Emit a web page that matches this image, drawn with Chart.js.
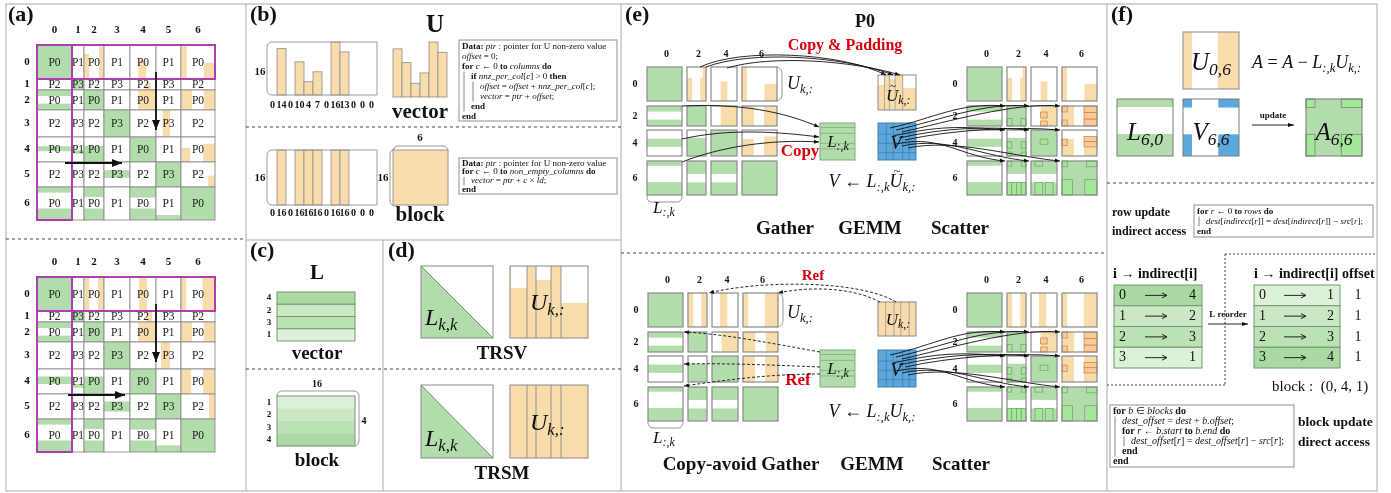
<!DOCTYPE html>
<html>
<head>
<meta charset="utf-8">
<script src="https://cdn.jsdelivr.net/npm/chart.js@4.4.1/dist/chart.umd.min.js"></script>
<style>html,body{margin:0;padding:0;background:#fff}canvas{display:block}</style>
</head>
<body>
<canvas id="fig" width="1391" height="493"></canvas>
<script>
// ---------------- data ----------------
// supernode block ids and the owning process of each block (2x2 process grid)
const blockIds = ['0','1','2','3','4','5','6'];
const owner = [
  ['P0','P1','P0','P1','P0','P1','P0'],
  ['P2','P3','P2','P3','P2','P3','P2'],
  ['P0','P1','P0','P1','P0','P1','P0'],
  ['P2','P3','P2','P3','P2','P3','P2'],
  ['P0','P1','P0','P1','P0','P1','P0'],
  ['P2','P3','P2','P3','P2','P3','P2'],
  ['P0','P1','P0','P1','P0','P1','P0']
];
// non-zeros per column of one U block: compressed (vector) and padded (block)
const nnzPerCol    = [0,14,0,10,4,7,0,16,13,0,0,0];
const paddedPerCol = [0,16,0,16,16,16,0,16,16,0,0,0];
const rowsPerBlock = 16;
const nonEmptyCols = 6;
// row order of an L block before / after reordering
const lRowsVector = [4,2,3,1];
const lRowsBlock  = [1,2,3,4];
// indirect row map and its reordered form
const rowIndex          = [0,1,2,3];
const indirect          = [4,2,3,1];
const indirectReordered = [1,2,3,4];
const rowOffset         = [1,1,1,1];
const blockTuple        = [0,4,1];
// block ids owned by P0 in the GEMM step
const gemmIds = ['0','2','4','6'];

// fill patterns of the blocks: [x0,y0,x1,y1,kind] in block fractions
const G = [[0,0,1,1,'g']];
const aVector = {
  '0,0':G,'0,2':[[0,.26,.25,1,'u'],[.75,0,.95,1,'u']],'0,4':[[.32,.46,.62,1,'u']],'0,6':[[.02,0,.17,1,'u'],[.67,.52,1,1,'u']],
  '1,1':G,'1,4':[[.58,.33,.8,1,'u']],
  '2,0':[[0,0,1,.3,'g'],[0,.68,1,1,'g']],'2,2':G,'2,4':[[.32,0,1,1,'u']],'2,6':[[0,0,.32,1,'u'],[.67,0,1,1,'u']],
  '3,3':G,'3,5':[[.27,0,.56,1,'u']],
  '4,0':[[0,.37,1,.57,'g']],'4,1':[[0,.53,1,.67,'g']],'4,2':[[0,.35,1,1,'g']],'4,4':G,'4,6':[[.02,.43,.27,1,'u'],[.65,.27,1,1,'u']],
  '5,3':[[0,.33,1,.63,'g']],'5,5':G,'5,6':[[.8,.55,1,1,'u']],
  '6,0':[[0,0,1,.17,'g'],[0,.65,1,1,'g']],'6,2':[[0,0,1,.3,'g'],[0,.65,1,1,'g']],'6,4':[[0,0,1,.32,'g'],[0,.65,1,1,'g']],'6,5':[[0,.85,1,1,'g']],'6,6':G
};
const aBlock = Object.assign({}, aVector, {
  '0,2':[[.05,0,.26,1,'u'],[.7,0,1,1,'u']],'0,4':[[.35,0,.65,1,'u']],'0,6':[[0,0,.15,1,'u'],[.63,0,1,1,'u']],
  '1,4':[[.62,0,.85,1,'u']],'3,5':[[.2,0,.55,1,'u']],'4,6':[[0,0,.3,1,'u'],[.65,0,1,1,'u']],'5,6':[[.82,0,1,1,'u']],
  '4,0':[[0,.3,1,.6,'g']],'4,1':[[0,.6,1,.75,'g']],'4,2':[[0,.3,1,1,'g']],'5,3':[[0,.3,1,.7,'g']],'6,5':[[0,.8,1,1,'g']]
});
const eVector = {
  '0,0':G,'0,2':[[0,.32,.27,1,'u'],[.7,.32,.83,1,'u'],[.83,0,1,1,'u']],'0,4':[[.37,.42,.63,1,'u']],'0,6':[[0,0,.14,1,'u'],[.64,.5,1,1,'u']],
  '2,0':[[0,0,1,.28,'g'],[0,.68,1,1,'g']],'2,2':G,'2,4':[[.37,0,1,1,'u']],'2,6':[[0,0,.34,1,'u'],[.63,0,1,1,'u']],
  '4,0':[[0,.33,1,.65,'g']],'4,2':[[0,.3,1,1,'g']],'4,4':G,'4,6':[[0,.35,.34,1,'u'],[.63,.25,1,1,'u']],
  '6,0':[[0,0,1,.14,'g'],[0,.62,1,1,'g']],'6,2':[[0,0,1,.38,'g'],[0,.63,1,1,'g']],'6,4':[[0,0,1,.38,'g'],[0,.63,1,1,'g']],'6,6':G
};
const eBlock = Object.assign({}, eVector, {
  '0,2':[[0,0,.28,1,'u'],[.7,0,1,1,'u']],'0,4':[[.31,0,.59,1,'u']],'0,6':[[0,0,.15,1,'u'],[.62,0,1,1,'u']],
  '2,6':[[0,0,.35,1,'u'],[.65,0,1,1,'u']],'4,6':[[0,0,.34,1,'u'],[.63,0,1,1,'u']]
});
const eUpdate = {
  '2,2':[[0,.62,.27,1,'b'],[.73,.62,1,1,'b']],
  '2,4':[[.37,.3,.62,.6,'o'],[.37,.75,.62,1,'o']],
  '2,6':[[0,0,.15,.3,'o'],[0,.7,.15,1,'o'],[.63,0,1,.33,'o'],[.63,.33,1,.66,'o'],[.63,.66,1,1,'o']],
  '4,2':[[0,.45,.25,.7,'b'],[.75,.45,1,.7,'b'],[0,.85,.25,1,'b'],[.75,.85,1,1,'b']],
  '4,4':[[.35,.35,.65,.55,'b']],
  '4,6':[[0,.35,.15,.6,'o'],[.63,.25,1,.45,'o'],[.63,.45,1,.65,'o']],
  '6,2':[[0,.63,.25,1,'b'],[.25,.63,.5,1,'b'],[.5,.63,.75,1,'b'],[.75,.63,1,1,'b'],[0,0,.25,.15,'b'],[.75,0,1,.15,'b']],
  '6,4':[[.15,.63,.45,1,'b'],[.55,.63,.85,1,'b'],[.15,0,.45,.15,'b']],
  '6,6':[[0,0,.15,.17,'b'],[.7,0,1,.17,'b'],[0,.55,.3,1,'b'],[.65,.55,1,1,'b']]
};

// ---------------- styles ----------------
const SERIF = '"Liberation Serif","Times New Roman",serif';
const COL = {
  green:'#b2dcab', bright:'#a6e69b', tan:'#f8dcab', orange:'#fcca98', blue:'#5da7dc',
  blueLine:'#3f80b4', frame:'#a9a9a9', magenta:'#b13db3', red:'#d7000f', ink:'#111111',
  greenLine:'#78a872', orangeLine:'#c88c50', cell:'#8e8e8e'
};
const KIND = {g:COL.green, u:COL.tan, b:COL.bright, o:COL.orange, v:COL.blue};
const SHADE = ['#ddf0d9','#cbe8c5','#bbe1b4','#abd9a3'];

// ---------------- drawing helpers (all coordinates go through the chart scales) ----------------
let X, Y, ctx;
function fillR(x0,y0,x1,y1,c){ctx.fillStyle=c;ctx.fillRect(X(x0),Y(y0),X(x1)-X(x0),Y(y1)-Y(y0));}
function strokeR(x0,y0,x1,y1,c,lw){ctx.setLineDash([]);ctx.strokeStyle=c;ctx.lineWidth=lw||1;ctx.strokeRect(X(x0),Y(y0),X(x1)-X(x0),Y(y1)-Y(y0));}
function seg(pts,c,lw,dash){ctx.beginPath();pts.forEach((p,i)=>i?ctx.lineTo(X(p[0]),Y(p[1])):ctx.moveTo(X(p[0]),Y(p[1])));ctx.strokeStyle=c||COL.ink;ctx.lineWidth=lw||1;ctx.setLineDash(dash||[]);ctx.stroke();ctx.setLineDash([]);}
function poly(pts,fill,stroke,lw){ctx.beginPath();pts.forEach((p,i)=>i?ctx.lineTo(X(p[0]),Y(p[1])):ctx.moveTo(X(p[0]),Y(p[1])));ctx.closePath();if(fill){ctx.fillStyle=fill;ctx.fill();}if(stroke){ctx.strokeStyle=stroke;ctx.lineWidth=lw||1;ctx.stroke();}}
function head(tx,ty,fx,fy,len,wid,c){
  const a=Math.atan2(Y(ty)-Y(fy),X(tx)-X(fx)), px=X(tx), py=Y(ty);
  ctx.beginPath();ctx.moveTo(px,py);
  ctx.lineTo(px-len*Math.cos(a)+wid/2*Math.sin(a),py-len*Math.sin(a)-wid/2*Math.cos(a));
  ctx.lineTo(px-len*Math.cos(a)-wid/2*Math.sin(a),py-len*Math.sin(a)+wid/2*Math.cos(a));
  ctx.closePath();ctx.fillStyle=c||COL.ink;ctx.fill();
}
function arrow(x0,y0,x1,y1,lw,len,wid){seg([[x0,y0],[x1,y1]],COL.ink,lw);head(x1,y1,x0,y0,len,wid);}
function curve(p0,c1,c2,p1,opt){
  opt=opt||{};
  ctx.beginPath();ctx.moveTo(X(p0[0]),Y(p0[1]));
  ctx.bezierCurveTo(X(c1[0]),Y(c1[1]),X(c2[0]),Y(c2[1]),X(p1[0]),Y(p1[1]));
  ctx.strokeStyle=COL.ink;ctx.lineWidth=opt.lw||0.9;ctx.setLineDash(opt.dash||[]);ctx.stroke();ctx.setLineDash([]);
  head(p1[0],p1[1],c2[0],c2[1],opt.len||6,opt.wid||4);
}
function rounded(pts,r,c,lw){
  ctx.beginPath();ctx.moveTo(X(pts[0][0]),Y(pts[0][1]));
  for(let i=1;i<pts.length-1;i++)ctx.arcTo(X(pts[i][0]),Y(pts[i][1]),X(pts[i+1][0]),Y(pts[i+1][1]),r);
  const l=pts[pts.length-1];ctx.lineTo(X(l[0]),Y(l[1]));
  ctx.strokeStyle=c||'#999';ctx.lineWidth=lw||1;ctx.setLineDash([]);ctx.stroke();
}
function txt(t,x,y,font,color,align,base){ctx.font=font;ctx.fillStyle=color||COL.ink;ctx.textAlign=align||'center';ctx.textBaseline=base||'middle';ctx.fillText(t,X(x),Y(y));}
function fnt(style,size){return (style.indexOf('i')>=0?'italic ':'')+(style.indexOf('b')>=0?'bold ':'')+size+'px '+SERIF;}
// mixed-style text: segments [text, style, kind] where kind may be 'sub' or 'tilde'
function rich(segs,x,y,size,align,color){
  const items=segs.map(s=>{const sub=s[2]==='sub';const sz=sub?size*0.7:size;const f=fnt(s[1]||'',sz);ctx.font=f;
    return {t:s[0],f:f,w:ctx.measureText(s[0]).width,sub:sub,tilde:s[2]==='tilde'};});
  const tot=items.reduce((a,b)=>a+b.w,0);
  let cx=X(x)-(align==='center'?tot/2:align==='right'?tot:0);const cy=Y(y);
  ctx.textAlign='left';ctx.textBaseline='alphabetic';ctx.fillStyle=color||COL.ink;
  items.forEach(it=>{ctx.font=it.f;ctx.fillText(it.t,cx,cy+(it.sub?size*0.2:0));
    if(it.tilde){ctx.font=fnt('',size*0.7);ctx.fillText('~',cx+it.w*0.3,cy-size*0.66);}
    cx+=it.w;});
  return tot;
}
const M=(b,s,t)=>[[b,'i',t?'tilde':''],[s,'i','sub']];
function patt(x0,y0,x1,y1,pats,outline){
  if(!pats)return;
  pats.forEach(p=>{
    const a=x0+(x1-x0)*p[0],b=y0+(y1-y0)*p[1],c=x0+(x1-x0)*p[2],d=y0+(y1-y0)*p[3];
    fillR(a,b,c,d,KIND[p[4]]);
    if(outline)strokeR(a,b,c,d,p[4]==='b'?COL.greenLine:COL.orangeLine,0.8);
  });
}
function codeBox(x0,y0,x1,y1,lines,size,lh){
  fillR(x0,y0,x1,y1,'#fff');strokeR(x0,y0,x1,y1,'#8f8f8f',1);
  const ind=9;
  lines.forEach((ln,i)=>{
    const d=ln[0], base=y0+lh*(i+1)-1;
    for(let k=1;k<=d;k++){const vx=x0+5+(k-1)*ind;seg([[vx,base-lh+2.5],[vx,base+2.5]],'#333',0.6);}
    rich(ln[1],x0+3+d*ind,base,size,'left');
  });
}

// ---------------- panels ----------------
function frames(){
  strokeR(6,4,1377,491,COL.frame,1);
  [[246,4,246,491],[621,4,621,491],[1107,4,1107,491],[383,240,383,491]].forEach(l=>seg([[l[0],l[1]],[l[2],l[3]]],COL.frame,1));
  seg([[246,240],[621,240]],COL.frame,1);
  const dash=[3,3];
  seg([[6,239],[246,239]],'#444',1,dash);
  seg([[246,127],[621,127]],'#444',1,dash);
  seg([[246,369],[621,369]],'#444',1,dash);
  seg([[621,253],[1107,253]],'#444',1,dash);
  seg([[1107,183],[1377,183]],'#444',1,dash);
  const dot=[2,2];
  seg([[1225,254],[1377,254]],'#444',1,dot);
  seg([[1225,254],[1225,385]],'#444',1,dot);
  seg([[1107,385],[1225,385]],'#444',1,dot);
  const pf='bold 22px '+SERIF;
  txt('(a)',8,21,pf,COL.ink,'left','alphabetic');
  txt('(b)',250,21,pf,COL.ink,'left','alphabetic');
  txt('(c)',250,257,pf,COL.ink,'left','alphabetic');
  txt('(d)',388,257,pf,COL.ink,'left','alphabetic');
  txt('(e)',625,21,pf,COL.ink,'left','alphabetic');
  txt('(f)',1111,21,pf,COL.ink,'left','alphabetic');
}

const aX=[37,72,84,104,130,156,181,215];
const aY=[0,34,45,65,92,117,142,175];
function grid(top,pats,arrows){
  const ye=aY.map(v=>v+top);
  blockIds.forEach((id,c)=>txt(id,(aX[c]+aX[c+1])/2,top-15,'bold 11px '+SERIF));
  blockIds.forEach((id,r)=>txt(id,27,(ye[r]+ye[r+1])/2,'bold 11px '+SERIF));
  owner.forEach((row,r)=>row.forEach((p,c)=>{
    const x0=aX[c],x1=aX[c+1],y0=ye[r],y1=ye[r+1];
    fillR(x0,y0,x1,y1,'#fff');patt(x0,y0,x1,y1,pats[r+','+c]);
    strokeR(x0,y0,x1,y1,COL.cell,0.9);
    txt(p,(x0+x1)/2,(y0+y1)/2+0.5,'11.5px '+SERIF,'#222');
  }));
  strokeR(aX[0],ye[0],aX[7],ye[1],COL.magenta,2);
  strokeR(aX[0],ye[0],aX[1],ye[7],COL.magenta,2);
  arrow(156,top+27,156,top+85,1.8,10,8);
  arrow(arrows,top+118,arrows+57,top+118,1.8,10,8);
}
function panelA(){grid(45,aVector,65);grid(277,aBlock,68);}

function colBars(x0,x1,y0,y1,vals,ly){
  const w=9,start=x0+1;
  vals.forEach((v,i)=>{const a=start+i*w;
    if(v>0){const t=y1-(y1-y0)*v/rowsPerBlock;fillR(a,t,a+w,y1,COL.tan);strokeR(a,t,a+w,y1,'#8c8c8c',0.8);}
    txt(String(v),a+w/2,ly,'bold 10px '+SERIF);});
  rounded([[x0+6,y0],[x0,y0],[x0,y1],[x0+6,y1]],5,'#9a9a9a',1);
  seg([[x0+6,y0],[x1,y0],[x1,y1],[x0+6,y1]],'#9a9a9a',1);
}
function panelB(){
  txt('U',435,32,'bold 25px '+SERIF,COL.ink,'center','alphabetic');
  txt('16',260,72,'bold 11px '+SERIF);
  colBars(267,377,42,95,nnzPerCol,105);
  const vals=nnzPerCol.filter(v=>v>0);
  vals.forEach((v,i)=>{const a=393+i*9,t=97-55*v/rowsPerBlock;fillR(a,t,a+9,97,COL.tan);strokeR(a,t,a+9,97,'#8c8c8c',0.8);});
  txt('vector',420,118,'bold 21px '+SERIF,COL.ink,'center','alphabetic');
  codeBox(459,40,617,121,[
    [0,[['Data:','b'],[' ',''],['ptr','i'],[' : pointer for U non-zero value','']]],
    [0,[['offset','i'],[' = 0;','']]],
    [0,[['for ','b'],['c','i'],[' \u2190 0 ',''],['to ','b'],['columns','i'],[' do','b']]],
    [1,[['if ','b'],['nnz_per_col','i'],['[',''],['c','i'],['] > 0 ',''],['then','b']]],
    [2,[['offset','i'],[' = ',''],['offset','i'],[' + ',''],['nnz_per_col','i'],['[',''],['c','i'],['];','']]],
    [2,[['vector','i'],[' = ',''],['ptr','i'],[' + ',''],['offset','i'],[';','']]],
    [1,[['end','b']]],
    [0,[['end','b']]]
  ],9,10);
  txt('16',260,178,'bold 11px '+SERIF);
  colBars(267,377,150,205,paddedPerCol,213);
  fillR(393,150,448,205,COL.tan);strokeR(393,150,448,205,'#999',1);
  rounded([[393,151],[393,146],[448,146],[448,151]],5,'#999',1);
  rounded([[395,149],[390,149],[390,206],[395,206]],5,'#999',1);
  txt(String(nonEmptyCols),420,138,'bold 11px '+SERIF);
  txt('16',383,178,'bold 11px '+SERIF);
  txt('block',420,221,'bold 21px '+SERIF,COL.ink,'center','alphabetic');
  codeBox(459,158,617,194,[
    [0,[['Data:','b'],[' ',''],['ptr','i'],[' : pointer for U non-zero value','']]],
    [0,[['for ','b'],['c','i'],[' \u2190 0 ',''],['to ','b'],['non_empty_columns','i'],[' do','b']]],
    [1,[['vector','i'],[' = ',''],['ptr','i'],[' + ',''],['c','i'],[' \u00d7 ',''],['ld','i'],[';','']]],
    [0,[['end','b']]]
  ],9,8.7);
}

function panelC(){
  txt('L',317,279,'bold 21px '+SERIF,COL.ink,'center','alphabetic');
  const h=(341-292)/lRowsVector.length;
  lRowsVector.forEach((v,i)=>{const y0=292+i*h;fillR(277,y0,355,y0+h,SHADE[v-1]);strokeR(277,y0,355,y0+h,'#6f9a6a',1);
    txt(String(v),269,y0+h/2,'bold 9px '+SERIF);});
  txt('vector',317,359,'bold 19px '+SERIF,COL.ink,'center','alphabetic');
  txt(String(rowsPerBlock),317,384,'bold 10px '+SERIF);
  rounded([[277,397],[277,391],[359,391],[359,446],[354,446]],5,'#999',1);
  txt(String(lRowsBlock.length),364,421,'bold 10px '+SERIF);
  const hb=(446-396)/lRowsBlock.length;
  lRowsBlock.forEach((v,i)=>{const y0=396+i*hb;fillR(277,y0,355,y0+hb+0.5,SHADE[v-1]);
    txt(String(v),269,y0+hb/2,'bold 9px '+SERIF);});
  strokeR(277,396,355,446,'#8a8a8a',1);
  txt('block',317,466,'bold 19px '+SERIF,COL.ink,'center','alphabetic');
}

function uPanel(y0,y1,blanks){
  fillR(510,y0,588,y1,COL.tan);
  blanks.forEach(b=>fillR(b[0],y0,b[1],y0+b[2],'#fff'));
  [527,536,551,561].forEach(x=>seg([[x,y0],[x,y1]],'#8a8a8a',0.9));
  strokeR(510,y0,588,y1,'#8a8a8a',1);
}
function panelD(){
  // TRSV
  fillR(421,266,493,338,'#fff');
  poly([[421,266],[421,338],[493,338]],COL.green,null);
  seg([[421,266],[493,338]],'#5f8f5a',0.9);
  strokeR(421,266,493,338,'#8a8a8a',1);
  rich(M('L','k,k'),425,325,24,'left');
  uPanel(266,338,[[511,527,22],[536,551,14],[561,588,37]]);
  rich(M('U','k,:'),530,310,24,'left');
  txt('TRSV',502,359,'bold 19px '+SERIF,COL.ink,'center','alphabetic');
  // TRSM
  fillR(421,385,493,458,'#fff');
  poly([[421,385],[421,458],[493,458]],COL.green,null);
  seg([[421,385],[493,458]],'#5f8f5a',0.9);
  strokeR(421,385,493,458,'#8a8a8a',1);
  rich(M('L','k,k'),425,446,24,'left');
  uPanel(385,458,[]);
  rich(M('U','k,:'),530,430,24,'left');
  txt('TRSM',502,479,'bold 19px '+SERIF,COL.ink,'center','alphabetic');
}

const eCols=[[0,35],[40,59],[64,90],[95,130]];
const eRows=[[0,34],[39,59],[63,89],[94,128]];
function blockMatrix(ox,oy,pats,upd){
  gemmIds.forEach((id,j)=>txt(id,ox+(eCols[j][0]+eCols[j][1])/2+2,oy-13,'bold 10px '+SERIF));
  gemmIds.forEach((id,i)=>txt(id,ox-12,oy+(eRows[i][0]+eRows[i][1])/2,'bold 10px '+SERIF));
  gemmIds.forEach((ri,i)=>gemmIds.forEach((ci,j)=>{
    const x0=ox+eCols[j][0],x1=ox+eCols[j][1],y0=oy+eRows[i][0],y1=oy+eRows[i][1];
    fillR(x0,y0,x1,y1,'#fff');patt(x0,y0,x1,y1,pats[ri+','+ci]);
    if(upd)patt(x0,y0,x1,y1,upd[ri+','+ci],true);
    strokeR(x0,y0,x1,y1,'#8a8a8a',1.2);
  }));
}
function lBox(y0){
  fillR(820,y0,855,y0+37,COL.green);
  [.12,.28,.55,.7].forEach(f=>seg([[820,y0+37*f],[855,y0+37*f]],'#7fae79',0.8));
  strokeR(820,y0,855,y0+37,'#7fae79',1);
  rich(M('L',':,k'),838,y0+24,17,'center');
}
function vBox(y0){
  fillR(878,y0,916,y0+37,COL.blue);
  [.22,.4,.65,.82].forEach(f=>seg([[878+38*f,y0],[878+38*f,y0+37]],COL.blueLine,0.8));
  [.3,.55,.8].forEach(f=>seg([[878,y0+37*f],[916,y0+37*f]],COL.blueLine,0.8));
  strokeR(878,y0,916,y0+37,COL.blueLine,1);
  rich([['V','i']],896,y0+26,19,'center');
}
function scatterArrows(vy,oy){
  for(let i=1;i<4;i++)for(let j=1;j<4;j++){
    const sx=884+6*j+3*(i-1), sy=vy-5+8*i+2*j;
    const tx=967+eCols[j][0]-2, ty=oy+eRows[i][0];
    curve([sx,sy],[sx+45,sy-10],[tx-45,ty-4],[tx,ty],{lw:0.9,len:5,wid:4});
  }
}
function panelE(){
  txt('P0',865,27,'bold 18px '+SERIF,COL.ink,'center','alphabetic');
  txt('Copy & Padding',845,50,'bold 16px '+SERIF,COL.red,'center','alphabetic');
  // top: gather with copy
  blockMatrix(647,67,eVector,null);
  rounded([[776,67],[782,67],[782,101],[776,101]],6,'#999',1);
  rich(M('U','k,:'),787,89,18,'left');
  rounded([[647,195],[647,202],[682,202],[682,195]],5,'#999',1);
  rich(M('L',':,k'),653,213,17,'left');
  fillR(878,75,916,110,COL.tan);
  [[878,884.5,10],[889.5,895,4],[903,916,13]].forEach(b=>fillR(b[0],75,b[1],75+b[2],'#fff'));
  [.17,.3,.45,.65].forEach(f=>seg([[878+38*f,75],[878+38*f,110]],'#9a9a9a',0.8));
  strokeR(878,75,916,110,'#8a8a8a',1);
  rich(M('U','k,:',true),886,101,17,'left');
  lBox(123);vBox(123);
  txt('Copy',800,156,'bold 17px '+SERIF,COL.red,'center','alphabetic');
  rich([['V','i'],[' \u2190 ',''],['L','i'],[':,k','i','sub'],['U','i','tilde'],['k,:','i','sub']],872,187,18,'center');
  curve([700,67],[740,48],[840,52],[886,75],{len:5,wid:4});
  curve([706,67],[750,50],[845,56],[893,75],{len:5,wid:4});
  curve([727,68],[770,55],[850,60],[900,75],{len:5,wid:4});
  curve([682,106],[740,103],[785,112],[819,127],{len:5,wid:4});
  curve([682,139],[730,128],[780,132],[819,137],{len:5,wid:4});
  curve([682,162],[720,147],[770,139],[819,142],{len:5,wid:4});
  blockMatrix(967,67,eVector,eUpdate);
  scatterArrows(123,67);
  txt('Gather',785,234,'bold 19px '+SERIF,COL.ink,'center','alphabetic');
  txt('GEMM',870,234,'bold 19px '+SERIF,COL.ink,'center','alphabetic');
  txt('Scatter',960,234,'bold 19px '+SERIF,COL.ink,'center','alphabetic');

  // bottom: copy-avoiding gather
  txt('Ref',813,280,'bold 15px '+SERIF,COL.red,'center','alphabetic');
  blockMatrix(648,293,eBlock,null);
  rounded([[777,293],[783,293],[783,327],[777,327]],6,'#999',1);
  rich(M('U','k,:'),787,318,18,'left');
  rounded([[648,421],[648,428],[683,428],[683,421]],5,'#999',1);
  rich(M('L',':,k'),653,443,17,'left');
  fillR(878,302,916,336,COL.tan);
  [.2,.42,.6,.82].forEach(f=>seg([[878+38*f,302],[878+38*f,336]],'#9a9a9a',0.8));
  strokeR(878,302,916,336,'#8a8a8a',1);
  rich(M('U','k,:'),898,325,17,'center');
  lBox(350);vBox(350);
  txt('Ref',798,385,'bold 17px '+SERIF,COL.red,'center','alphabetic');
  rich([['V','i'],[' \u2190 ',''],['L','i'],[':,k','i','sub'],['U','i'],['k,:','i','sub']],872,417,18,'center');
  const d={dash:[3,2],len:5,wid:4,lw:0.9};
  curve([896,302],[860,280],[760,280],[709,293],d);
  curve([880,302],[850,286],[805,287],[778,293],d);
  curve([820,352],[770,343],[725,334],[684,332],d);
  curve([820,367],[770,365],[725,363],[684,364],d);
  curve([820,374],[770,374],[725,380],[684,386],d);
  blockMatrix(967,293,eBlock,eUpdate);
  scatterArrows(350,293);
  txt('Copy-avoid Gather',741,470,'bold 19px '+SERIF,COL.ink,'center','alphabetic');
  txt('GEMM',872,470,'bold 19px '+SERIF,COL.ink,'center','alphabetic');
  txt('Scatter',961,470,'bold 19px '+SERIF,COL.ink,'center','alphabetic');
}

function cornerBox(x0,y0,x1,y1,base,corner,label){
  if(base)fillR(x0,y0,x1,y1,base);else fillR(x0,y0,x1,y1,'#fff');
  [[0,0,.16,.15],[.63,0,1,.15],[0,.62,.16,1],[.63,.62,1,1]].forEach(p=>{
    const a=x0+(x1-x0)*p[0],b=y0+(y1-y0)*p[1],c=x0+(x1-x0)*p[2],d=y0+(y1-y0)*p[3];
    fillR(a,b,c,d,corner);if(base)strokeR(a,b,c,d,'#6d9f66',0.9);
  });
  strokeR(x0,y0,x1,y1,'#7a7a7a',1);
  rich(label,(x0+x1)/2,140,25,'center');
}
function mapTable(x0,y0,x1,y1,keys,vals){
  const h=(y1-y0)/keys.length;
  keys.forEach((k,i)=>{const a=y0+i*h,m=a+h/2;
    fillR(x0,a,x1,a+h,SHADE[vals[i]-1]);strokeR(x0,a,x1,a+h,'#6f9a6a',1);
    txt(String(k),x0+5,m,'14px '+SERIF,COL.ink,'left');
    txt(String(vals[i]),x1-6,m,'14px '+SERIF,COL.ink,'right');
    const cx=(x0+x1)/2-2;seg([[cx-11,m],[cx+10,m]],COL.ink,0.9);
    seg([[cx+6,m-2.5],[cx+11,m],[cx+6,m+2.5]],COL.ink,0.9);
  });
}
function panelF(){
  fillR(1183,32,1239,89,'#fff');
  fillR(1183,32,1192,89,COL.tan);fillR(1218,32,1239,89,COL.tan);
  strokeR(1183,32,1239,89,'#8a8a8a',1);
  rich(M('U','0,6'),1211,70,25,'center');
  rich([['A','i'],[' = ',''],['A','i'],[' \u2212 ',''],['L','i'],[':,k','i','sub'],['U','i'],['k,:','i','sub']],1252,68,18,'left');
  fillR(1117,99,1173,156,'#fff');fillR(1117,99,1173,107,COL.green);fillR(1117,134,1173,156,COL.green);
  strokeR(1117,99,1173,156,'#7a7a7a',1);
  rich(M('L','6,0'),1145,140,25,'center');
  cornerBox(1183,99,1239,156,null,COL.blue,M('V','6,6'));
  txt('update',1273,116,'bold 9px '+SERIF);
  arrow(1252,125,1294,125,0.9,6,4);
  cornerBox(1306,99,1362,156,COL.green,COL.bright,M('A','6,6'));
  txt('row update',1112,216,'bold 12px '+SERIF,COL.ink,'left','alphabetic');
  txt('indirect access',1112,235,'bold 12px '+SERIF,COL.ink,'left','alphabetic');
  codeBox(1194,205,1373,237,[
    [0,[['for ','b'],['r','i'],[' \u2190 0 ',''],['to ','b'],['rows','i'],[' do','b']]],
    [1,[['dest','i'],['[',''],['indirect','i'],['[',''],['r','i'],[']] = ',''],['dest','i'],['[',''],['indirect','i'],['[',''],['r','i'],[']] \u2212 ',''],['src','i'],['[',''],['r','i'],['];','']]],
    [0,[['end','b']]]
  ],9,10);
  txt('i \u2192 indirect[i]',1113,278,'bold 14px '+SERIF,COL.ink,'left','alphabetic');
  mapTable(1114,285,1202,368,rowIndex,indirect);
  txt('L reorder',1228,315,'bold 9px '+SERIF);
  arrow(1208,324,1248,324,0.9,6,4);
  txt('i \u2192 indirect[i] offset',1254,278,'bold 14px '+SERIF,COL.ink,'left','alphabetic');
  mapTable(1254,285,1340,368,rowIndex,indirectReordered);
  rowOffset.forEach((o,i)=>txt(String(o),1358,285+(i+0.5)*(83/4),'14px '+SERIF));
  txt('block :  ('+blockTuple.join(', ')+')',1272,391,'15px '+SERIF,COL.ink,'left','alphabetic');
  codeBox(1110,405,1294,467,[
    [0,[['for ','b'],['b',"i"],[' \u2208 ',''],['blocks','i'],[' do','b']]],
    [1,[['dest_offset','i'],[' = ',''],['dest','i'],[' + ',''],['b.offset','i'],[';','']]],
    [1,[['for ','b'],['r','i'],[' \u2190 ',''],['b.start','i'],[' to ','b'],['b.end','i'],[' do','b']]],
    [2,[['dest_offset','i'],['[',''],['r','i'],['] = ',''],['dest_offset','i'],['[',''],['r','i'],['] \u2212 ',''],['src','i'],['[',''],['r','i'],['];','']]],
    [1,[['end','b']]],
    [0,[['end','b']]]
  ],10,10);
  txt('block update',1298,426,'bold 13.5px '+SERIF,COL.ink,'left','alphabetic');
  txt('direct access',1298,446,'bold 13.5px '+SERIF,COL.ink,'left','alphabetic');
}

const diagram = {
  id:'diagram',
  afterDraw(chart){
    const xs=chart.scales.x, ys=chart.scales.y;
    X=v=>xs.getPixelForValue(v); Y=v=>ys.getPixelForValue(v); ctx=chart.ctx;
    ctx.save();
    fillR(0,0,1391,493,'#fff');
    frames();panelA();panelB();panelC();panelD();panelE();panelF();
    ctx.restore();
  }
};

new Chart(document.getElementById('fig'),{
  type:'scatter',
  data:{datasets:[]},
  options:{
    responsive:false, animation:false,
    layout:{padding:0},
    plugins:{legend:{display:false},tooltip:{enabled:false}},
    scales:{
      x:{type:'linear',min:0,max:1391,display:false},
      y:{type:'linear',min:0,max:493,reverse:true,display:false}
    }
  },
  plugins:[diagram]
});
</script>
</body>
</html>
